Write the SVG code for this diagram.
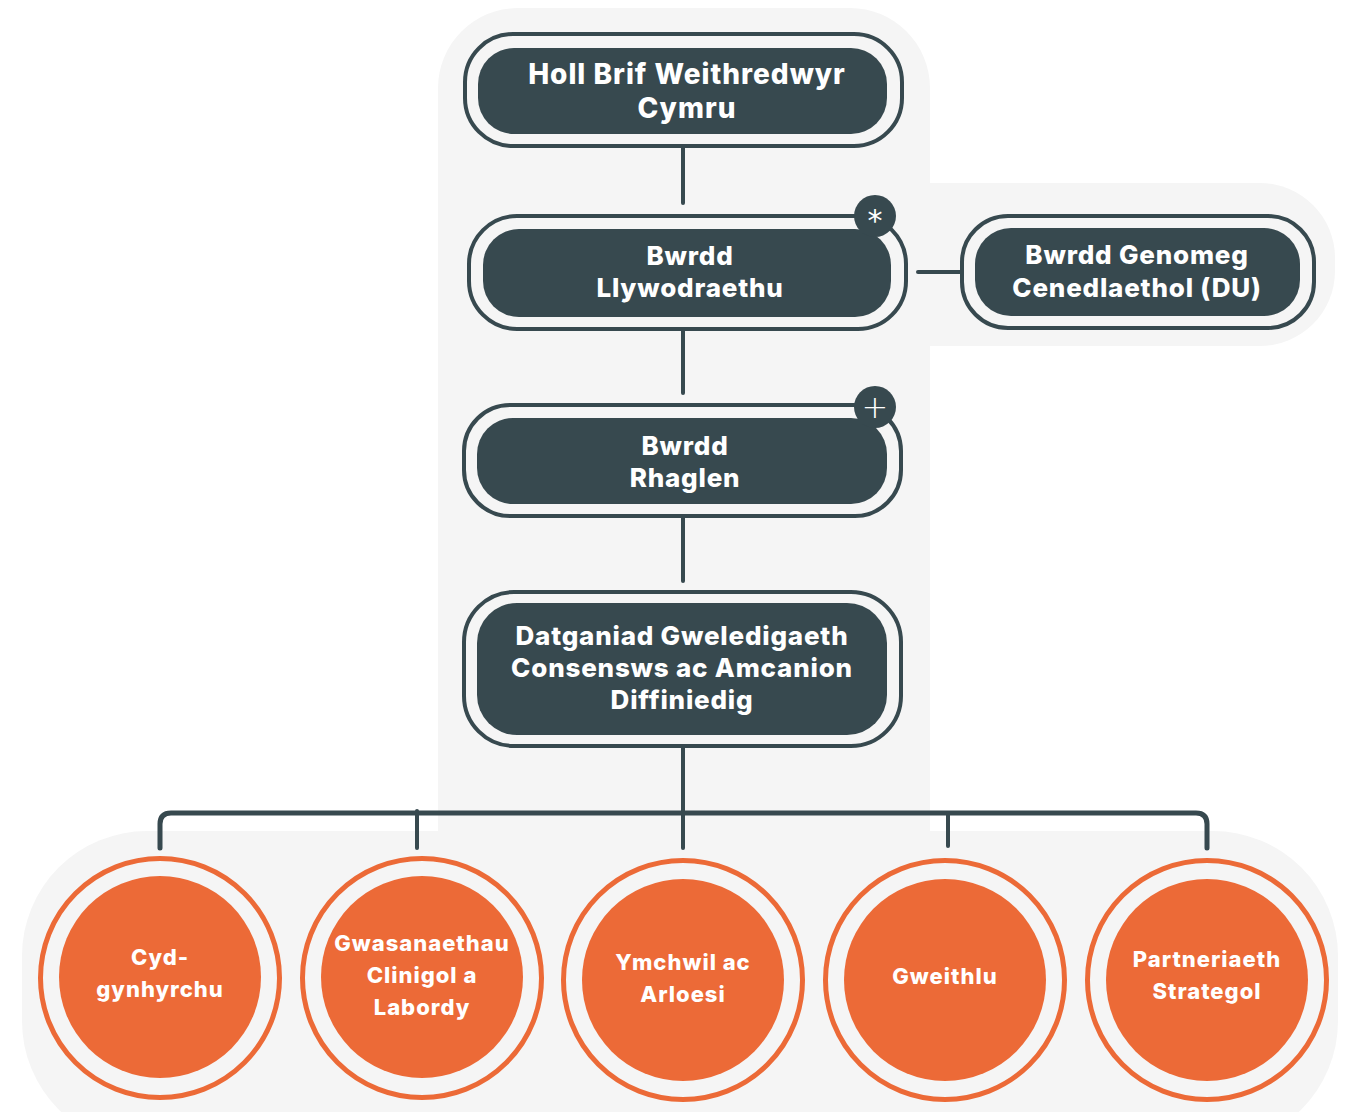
<svg xmlns="http://www.w3.org/2000/svg" width="1348" height="1112" viewBox="0 0 1348 1112">
<style>
.bg{fill:#f5f5f5}
.outer{fill:none;stroke:#37494f;stroke-width:4}
.inner{fill:#37494f}
.lbl{font-family:Inter,"Open Sans","Liberation Sans",sans-serif;font-weight:800;fill:#ffffff;text-anchor:middle}
.box{font-size:26px;letter-spacing:0.8px}
.top{font-size:28px;letter-spacing:1px}
.circ{font-size:22px;letter-spacing:1px}
.ring{fill:#f5f5f5;stroke:#ec6a37;stroke-width:5}
.disc{fill:#ec6a37}
.con{fill:none;stroke:#37494f;stroke-width:4;stroke-linecap:round}
.bus{fill:none;stroke:#37494f;stroke-width:5;stroke-linecap:round}
.badge{fill:#37494f}
.sym{font-family:"DejaVu Sans","Liberation Sans",sans-serif;fill:#ffffff;text-anchor:middle}
</style>
<g id="background">
<path class="bg" d="M438,860 V88 A80,80 0 0 1 518,8 H850 A80,80 0 0 1 930,88 V860 Z"/>
<path class="bg" d="M920,183 H1260 A75,75 0 0 1 1335,258 V271 A75,75 0 0 1 1260,346 H920 Z"/>
<rect class="bg" x="22" y="831" width="1316" height="315" rx="125"/>
</g>
<g id="connectors">
<line class="con" x1="683" y1="148" x2="683" y2="203"/>
<line class="con" x1="683" y1="331" x2="683" y2="393"/>
<line class="con" x1="683" y1="518" x2="683" y2="581"/>
<line class="con" x1="683" y1="748" x2="683" y2="848"/>
<line class="con" x1="918" y1="272" x2="960" y2="272"/>
<path class="bus" d="M160,848 V824 Q160,813 171,813 H1196 Q1207,813 1207,824 V848"/>
<line class="con" x1="417" y1="811" x2="417" y2="848"/>
<line class="con" x1="948" y1="813" x2="948" y2="846"/>
</g>
<g id="node-holl-brif">
<rect class="outer" x="465" y="34" width="437" height="112" rx="48"/>
<rect class="inner" x="478" y="48" width="409" height="86" rx="36"/>
<text class="lbl top" x="687" y="84">Holl Brif Weithredwyr</text>
<text class="lbl top" x="687" y="118">Cymru</text>
</g>
<g id="node-bwrdd-llywodraethu">
<rect class="outer" x="469" y="216" width="437" height="113" rx="48"/>
<rect class="inner" x="483" y="229" width="408" height="88" rx="36"/>
<text class="lbl box" x="690" y="265">Bwrdd</text>
<text class="lbl box" x="690" y="297">Llywodraethu</text>
<circle class="badge" cx="875" cy="216" r="21"/>
<text class="sym" x="875" y="231" font-size="30">*</text>
</g>
<g id="node-genomeg">
<rect class="outer" x="962" y="216" width="352" height="112" rx="46"/>
<rect class="inner" x="975" y="228" width="325" height="88" rx="36"/>
<text class="lbl box" x="1137" y="264">Bwrdd Genomeg</text>
<text class="lbl box" x="1137" y="297">Cenedlaethol (DU)</text>
</g>
<g id="node-bwrdd-rhaglen">
<rect class="outer" x="464" y="405" width="437" height="111" rx="46"/>
<rect class="inner" x="477" y="418" width="410" height="86" rx="36"/>
<text class="lbl box" x="685" y="455">Bwrdd</text>
<text class="lbl box" x="685" y="487">Rhaglen</text>
<circle class="badge" cx="875" cy="407" r="21"/>
<text class="sym" x="875" y="418" font-size="32" font-weight="300">+</text>
</g>
<g id="node-datganiad">
<rect class="outer" x="464" y="592" width="437" height="154" rx="50"/>
<rect class="inner" x="477" y="603" width="410" height="132" rx="40"/>
<text class="lbl box" x="682" y="645">Datganiad Gweledigaeth</text>
<text class="lbl box" x="682" y="677">Consensws ac Amcanion</text>
<text class="lbl box" x="682" y="709">Diffiniedig</text>
</g>
<g id="node-cyd-gynhyrchu">
<circle class="ring" cx="160" cy="978" r="119.5"/>
<circle class="disc" cx="160" cy="977" r="101"/>
<text class="lbl circ" x="160" y="965">Cyd-</text>
<text class="lbl circ" x="160" y="997">gynhyrchu</text>
</g>
<g id="node-gwasanaethau">
<circle class="ring" cx="422" cy="978" r="119.5"/>
<circle class="disc" cx="422" cy="977" r="101"/>
<text class="lbl circ" x="422" y="951">Gwasanaethau</text>
<text class="lbl circ" x="422" y="983">Clinigol a</text>
<text class="lbl circ" x="422" y="1015">Labordy</text>
</g>
<g id="node-ymchwil">
<circle class="ring" cx="683" cy="980" r="119.5"/>
<circle class="disc" cx="683" cy="980" r="101"/>
<text class="lbl circ" x="683" y="970">Ymchwil ac</text>
<text class="lbl circ" x="683" y="1002">Arloesi</text>
</g>
<g id="node-gweithlu">
<circle class="ring" cx="945" cy="980" r="119.5"/>
<circle class="disc" cx="945" cy="980" r="101"/>
<text class="lbl circ" x="945" y="984">Gweithlu</text>
</g>
<g id="node-partneriaeth">
<circle class="ring" cx="1207" cy="980" r="119.5"/>
<circle class="disc" cx="1207" cy="980" r="101"/>
<text class="lbl circ" x="1207" y="967">Partneriaeth</text>
<text class="lbl circ" x="1207" y="999">Strategol</text>
</g>
</svg>
